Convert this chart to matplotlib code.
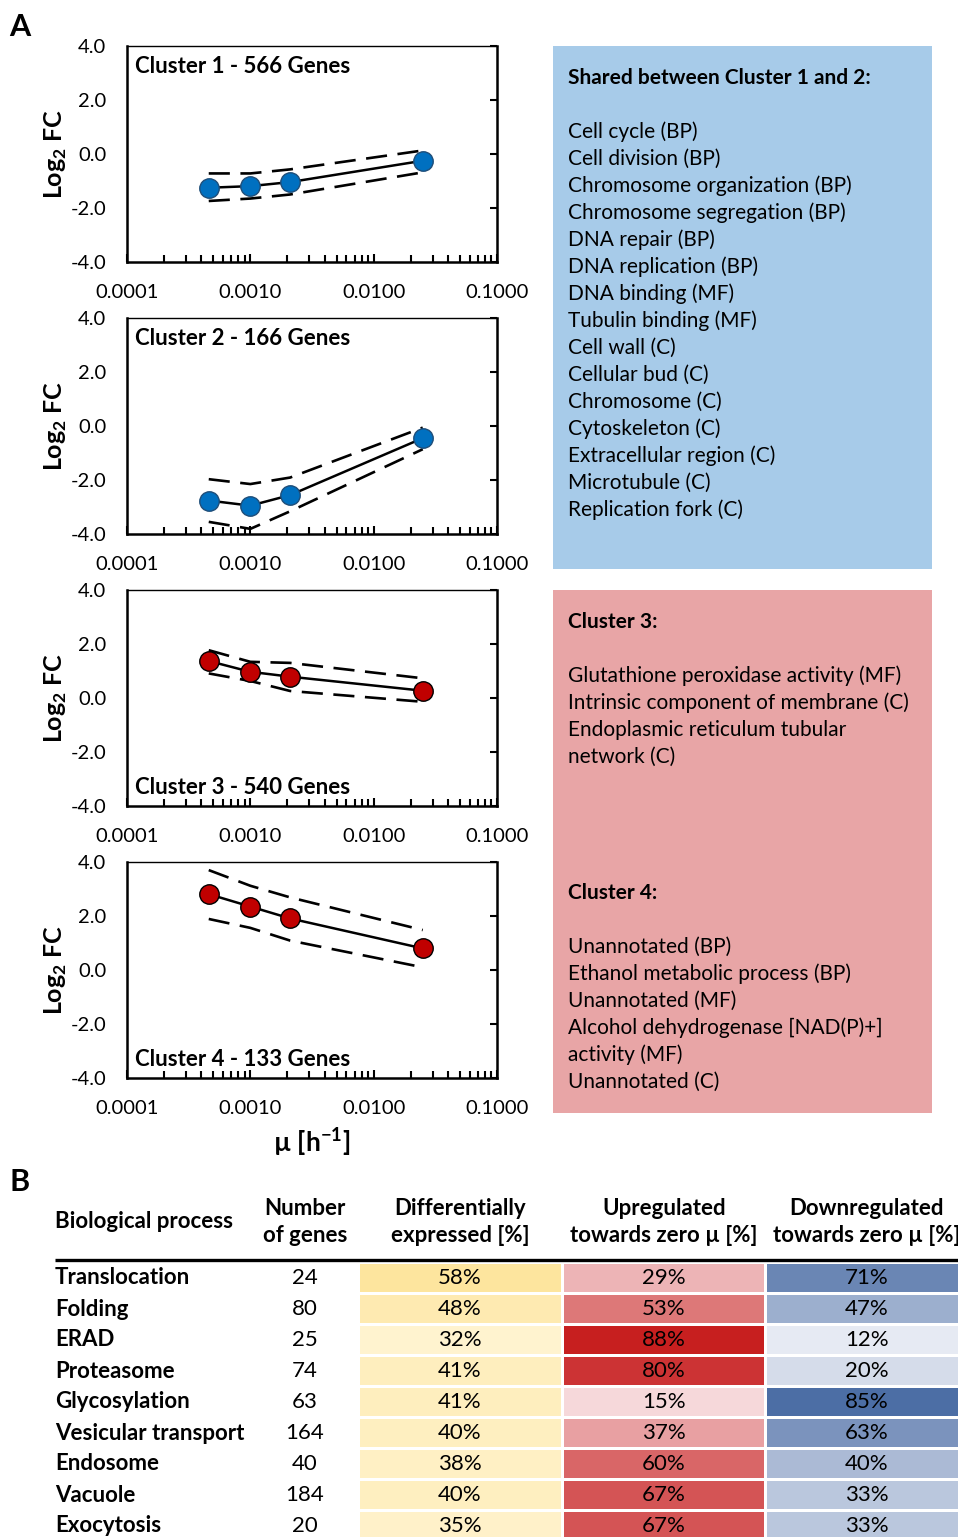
import numpy as np
import matplotlib
matplotlib.use('Agg')
import matplotlib.pyplot as plt
from matplotlib.colors import LinearSegmentedColormap, Normalize
from matplotlib.patches import Rectangle
from matplotlib.ticker import FixedLocator, LogLocator, FormatStrFormatter, NullFormatter

plt.rcParams['font.family'] = ['Lato', 'DejaVu Sans']
plt.rcParams['mathtext.fontset'] = 'custom'
plt.rcParams['mathtext.rm'] = 'Lato'
plt.rcParams['mathtext.bf'] = 'Lato:bold'

# ---- panel A data ----
mu = [0.00046, 0.0010, 0.0021, 0.025]

cluster_names = ['Cluster 1 - 566 Genes', 'Cluster 2 - 166 Genes',
                 'Cluster 3 - 540 Genes', 'Cluster 4 - 133 Genes']
cluster_mean = [[-1.25, -1.19, -1.04, -0.25],
                [-2.76, -2.95, -2.56, -0.45],
                [1.37, 0.97, 0.79, 0.27],
                [2.81, 2.35, 1.91, 0.80]]
cluster_upper = [[-0.72, -0.72, -0.57, 0.13],
                 [-1.97, -2.15, -1.91, -0.06],
                 [1.77, 1.34, 1.30, 0.73],
                 [3.70, 3.12, 2.69, 1.48]]
cluster_lower = [[-1.74, -1.65, -1.50, -0.68],
                 [-3.55, -3.81, -3.16, -0.86],
                 [0.91, 0.63, 0.26, -0.14],
                 [1.89, 1.56, 1.09, 0.10]]
cluster_color = ['#0070C0', '#0070C0', '#C00000', '#C00000']
cluster_edge = ['#1F4E79', '#1F4E79', '#000000', '#000000']
label_top = [True, True, False, False]

box1_title = 'Shared between Cluster 1 and 2:'
box1_items = ['Cell cycle (BP)', 'Cell division (BP)', 'Chromosome organization (BP)',
              'Chromosome segregation (BP)', 'DNA repair (BP)', 'DNA replication (BP)',
              'DNA binding (MF)', 'Tubulin binding (MF)', 'Cell wall (C)', 'Cellular bud (C)',
              'Chromosome (C)', 'Cytoskeleton (C)', 'Extracellular region (C)',
              'Microtubule (C)', 'Replication fork (C)']
box3_title = 'Cluster 3:'
box3_items = ['Glutathione peroxidase activity (MF)', 'Intrinsic component of membrane (C)',
              'Endoplasmic reticulum tubular', 'network (C)']
box4_title = 'Cluster 4:'
box4_items = ['Unannotated (BP)', 'Ethanol metabolic process (BP)', 'Unannotated (MF)',
              'Alcohol dehydrogenase [NAD(P)+]', 'activity (MF)', 'Unannotated (C)']

# ---- panel B data ----
processes = ['Translocation', 'Folding', 'ERAD', 'Proteasome', 'Glycosylation',
             'Vesicular transport', 'Endosome', 'Vacuole', 'Exocytosis']
n_genes = [24, 80, 25, 74, 63, 164, 40, 184, 20]
diff_expr = [58, 48, 32, 41, 41, 40, 38, 40, 35]
upregulated = [29, 53, 88, 80, 15, 37, 60, 67, 67]
downregulated = [71, 47, 12, 20, 85, 63, 40, 33, 33]
headers = ['Number\nof genes', 'Differentially\nexpressed [%]',
           'Upregulated\ntowards zero µ [%]', 'Downregulated\ntowards zero µ [%]']

W, H = 958, 1537
fig = plt.figure(figsize=(W / 100, H / 100), dpi=100)


def fig_rect(left, top, width, height):
    return [left / W, 1 - (top + height) / H, width / W, height / H]


# background axes in pixel coordinates for boxes, letters and table
bg = fig.add_axes([0, 0, 1, 1])
bg.set_xlim(0, W)
bg.set_ylim(H, 0)
bg.axis('off')

bg.text(20, 27, 'A', fontsize=22, fontweight='bold', ha='center', va='center')
bg.text(20, 1182, 'B', fontsize=22, fontweight='bold', ha='center', va='center')

# ---- panel A plots ----
plot_tops = [46, 318, 590, 862]
axes = []
for i in range(4):
    ax = fig.add_axes(fig_rect(127, plot_tops[i], 370, 216))
    ax.set_xscale('log')
    ax.set_xlim(0.0001, 0.1)
    ax.set_ylim(-4, 4)
    ax.plot(mu, cluster_upper[i], color='black', lw=1.9, ls=(0, (8, 4)), zorder=2)
    ax.plot(mu, cluster_lower[i], color='black', lw=1.9, ls=(0, (8, 4)), zorder=2)
    ax.plot(mu, cluster_mean[i], color='black', lw=1.8, zorder=3,
            marker='o', ms=14, mfc=cluster_color[i], mec=cluster_edge[i], mew=1.0)
    if label_top[i]:
        ax.text(0.022, 0.905, cluster_names[i], transform=ax.transAxes,
                fontsize=16, fontweight='bold', ha='left', va='center')
    else:
        ax.text(0.022, 0.085, cluster_names[i], transform=ax.transAxes,
                fontsize=16, fontweight='bold', ha='left', va='center')

    ax.yaxis.set_major_locator(FixedLocator([-4, -2, 0, 2, 4]))
    ax.yaxis.set_major_formatter(FormatStrFormatter('%.1f'))
    ax.tick_params(axis='y', left=False, right=True, labelleft=True, labelright=False,
                   direction='in', length=5, width=1.5, labelsize=14.5, pad=15)
    ax.xaxis.set_major_locator(FixedLocator([0.0001, 0.001, 0.01, 0.1]))
    ax.xaxis.set_major_formatter(FormatStrFormatter('%.4f'))
    ax.xaxis.set_minor_locator(LogLocator(base=10, subs=np.arange(2, 10)))
    ax.xaxis.set_minor_formatter(NullFormatter())
    ax.tick_params(axis='x', which='both', direction='in', length=5, width=1.5,
                   labelsize=14.5, pad=16)
    ax.tick_params(axis='x', which='major', length=6)
    for side in ['left', 'bottom', 'right']:
        ax.spines[side].set_linewidth(1.8)
    ax.spines['top'].set_linewidth(1.0)
    ax.set_ylabel('Log$_\\mathbf{2}$ FC', fontsize=18, fontweight='bold')
    ax.yaxis.set_label_coords(-0.158, 0.5)
    axes.append(ax)

axes[3].set_xlabel('µ [h$^\\mathbf{-1}$]', fontsize=19, fontweight='bold', labelpad=6)

# ---- text boxes ----
bg.add_patch(Rectangle((553, 46), 379, 523, facecolor='#A7CBE9', edgecolor='none'))
bg.add_patch(Rectangle((553, 590), 379, 523, facecolor='#E8A5A6', edgecolor='none'))

box_font = 15
bg.text(568, 78, box1_title, fontsize=box_font, fontweight='bold', va='center')
for k, item in enumerate(box1_items):
    bg.text(568, 132 + 27 * k, item, fontsize=box_font, va='center')
bg.text(568, 622, box3_title, fontsize=box_font, fontweight='bold', va='center')
for k, item in enumerate(box3_items):
    bg.text(568, 676 + 27 * k, item, fontsize=box_font, va='center')
bg.text(568, 893, box4_title, fontsize=box_font, fontweight='bold', va='center')
for k, item in enumerate(box4_items):
    bg.text(568, 947 + 27 * k, item, fontsize=box_font, va='center')

# ---- panel B table ----
tab_font = 16
bg.text(55, 1222, 'Biological process', fontsize=tab_font, fontweight='bold', va='center')
header_x = [305, 460, 664, 867]
for hx, hd in zip(header_x, headers):
    bg.text(hx, 1222, hd, fontsize=tab_font, fontweight='bold', ha='center', va='center',
            linespacing=1.38)
bg.plot([55, W], [1260, 1260], color='black', lw=2.4, solid_capstyle='butt')

col_left = [360, 564, 767]
col_width = [201, 200, 200]
col_values = [diff_expr, upregulated, downregulated]
col_cmaps = [LinearSegmentedColormap.from_list('yel', ['#FFF3CF', '#FDE59E']),
             LinearSegmentedColormap.from_list('red', ['#F6D8DA', '#C71F1F']),
             LinearSegmentedColormap.from_list('blu', ['#E6EAF3', '#4C6EA5'])]

for r, name in enumerate(processes):
    yc = 1278 + 31 * r
    bg.text(55, yc, name, fontsize=tab_font, fontweight='bold', va='center')
    bg.text(305, yc, str(n_genes[r]), fontsize=tab_font, ha='center', va='center')
    for c in range(3):
        vals = col_values[c]
        norm = Normalize(min(vals), max(vals))
        color = col_cmaps[c](norm(vals[r]))
        bg.add_patch(Rectangle((col_left[c], yc - 14.5), col_width[c], 28.5,
                               facecolor=color, edgecolor='none'))
        bg.text(col_left[c] + 100, yc, f'{vals[r]}%', fontsize=tab_font,
                ha='center', va='center')

fig.savefig('out.png', dpi=100)
